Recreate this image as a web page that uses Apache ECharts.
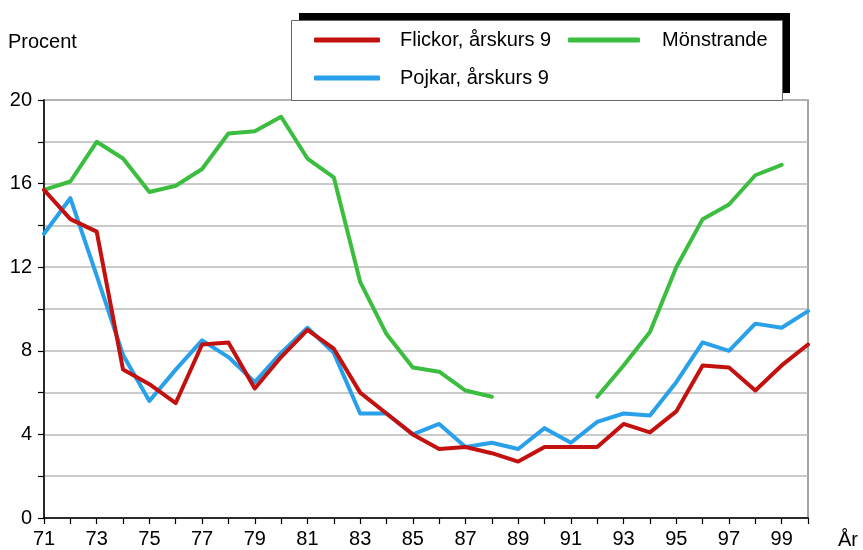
<!DOCTYPE html>
<html>
<head>
<meta charset="utf-8">
<script src="https://cdn.jsdelivr.net/npm/echarts@6/dist/echarts.min.js"></script>
<style>
html,body{margin:0;padding:0;background:#fff;}
#c{width:863px;height:550px;}
</style>
</head>
<body>
<div id="c"></div>
<script>
const years = [71,72,73,74,75,76,77,78,79,80,81,82,83,84,85,86,87,88,89,90,91,92,93,94,95,96,97,98,99,100];
const flickor = [15.7,14.3,13.7,7.1,6.4,5.5,8.3,8.4,6.2,7.7,9.0,8.1,6.0,5.0,4.0,3.3,3.4,3.1,2.7,3.4,3.4,3.4,4.5,4.1,5.1,7.3,7.2,6.1,7.3,8.3];
const pojkar  = [13.6,15.3,11.6,7.8,5.6,7.1,8.5,7.7,6.5,7.9,9.1,7.9,5.0,5.0,4.0,4.5,3.4,3.6,3.3,4.3,3.6,4.6,5.0,4.9,6.5,8.4,8.0,9.3,9.1,9.9];
const monstrande = [15.7,16.1,18.0,17.2,15.6,15.9,16.7,18.4,18.5,19.2,17.2,16.3,11.3,8.8,7.2,7.0,6.1,5.8,null,null,null,5.8,7.3,8.9,12.0,14.3,15.0,16.4,16.9,null];
const seriesNames = ['Flickor, årskurs 9','Mönstrande','Pojkar, årskurs 9'];
const colors = {flickor:'#c3110f', pojkar:'#29a0ea', monstrande:'#3bbd3f'};
const yTicks = [0,4,8,12,16,20];

const pairs = arr => years.map((y,i)=>[y, arr[i]]);
const font = 'Liberation Sans, Arial, sans-serif';
const legendText = pad => ({fontFamily:font,fontSize:20,color:'#000',lineHeight:26,padding:[0,0,0,pad]});

const chart = echarts.init(document.getElementById('c'), null, {renderer:'canvas'});
chart.setOption({
  animation:false,
  backgroundColor:'#fff',
  grid:{left:44,right:55,top:100,bottom:32,show:true,borderColor:'#888',borderWidth:1.5,backgroundColor:'transparent'},
  xAxis:{
    type:'value',min:71,max:100,interval:1,
    axisLine:{show:true,onZero:false,lineStyle:{color:'#000',width:1.5}},
    axisTick:{show:true,length:6,lineStyle:{color:'#000',width:1.2}},
    axisLabel:{margin:11,fontFamily:font,fontSize:20,color:'#000',
      formatter:v=> (v%2===1 ? String(v) : '')},
    splitLine:{show:false}
  },
  yAxis:{
    type:'value',min:0,max:20,interval:2,
    axisLine:{show:true,lineStyle:{color:'#000',width:1.5}},
    axisTick:{show:true,length:6,lineStyle:{color:'#000',width:1.2}},
    axisLabel:{margin:12,fontFamily:font,fontSize:20,color:'#000',
      formatter:v=> (yTicks.indexOf(v)>=0 ? String(v) : '')},
    splitLine:{show:true,lineStyle:{color:'#b8b8b8',width:1.5}}
  },
  legend:[
    {
      data:[seriesNames[0], seriesNames[2]],
      left:314,top:27,orient:'vertical',padding:0,itemGap:12,
      itemWidth:66,itemHeight:5,icon:'roundRect',
      textStyle:legendText(15),z:10
    },
    {
      data:[seriesNames[1]],
      left:568,top:27,orient:'vertical',padding:0,itemGap:12,
      itemWidth:72,itemHeight:5,icon:'roundRect',
      textStyle:legendText(17),z:10
    }
  ],
  graphic:[
    {type:'rect',z:5,shape:{x:299,y:13,width:491,height:80},style:{fill:'#000'}},
    {type:'rect',z:6,shape:{x:291.5,y:20.5,width:491,height:80},style:{fill:'#fff',stroke:'#666',lineWidth:1}},
    {type:'text',left:8,top:32,style:{text:'Procent',font:'20px '+font,fill:'#000'}},
    {type:'text',left:838,top:530,style:{text:'År',font:'20px '+font,fill:'#000'}}
  ],
  series:[
    {name:'Flickor, årskurs 9',type:'line',data:pairs(flickor),symbol:'none',z:4,
      lineStyle:{color:colors.flickor,width:4,cap:'round',join:'round'},itemStyle:{color:colors.flickor}},
    {name:'Mönstrande',type:'line',data:pairs(monstrande),symbol:'none',connectNulls:false,z:2,
      lineStyle:{color:colors.monstrande,width:4,cap:'round',join:'round'},itemStyle:{color:colors.monstrande}},
    {name:'Pojkar, årskurs 9',type:'line',data:pairs(pojkar),symbol:'none',z:3,
      lineStyle:{color:colors.pojkar,width:4,cap:'round',join:'round'},itemStyle:{color:colors.pojkar}}
  ]
});
</script>
</body>
</html>
